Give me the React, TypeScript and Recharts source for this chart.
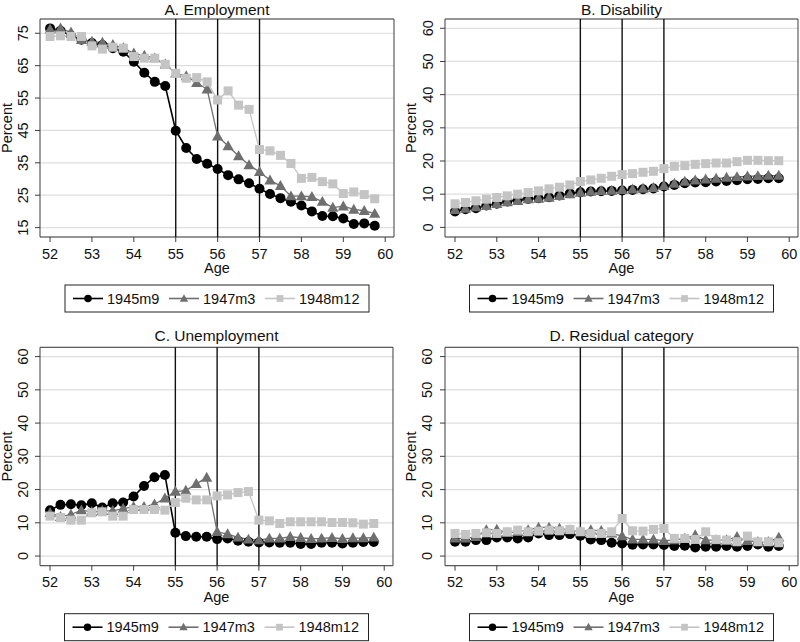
import React from 'react';
import { LineChart, Line, XAxis, YAxis, CartesianGrid, ReferenceLine, ReferenceArea } from 'recharts';

const ages = [52, 52.25, 52.5, 52.75, 53, 53.25, 53.5, 53.75, 54, 54.25, 54.5, 54.75, 55, 55.25, 55.5, 55.75, 56, 56.25, 56.5, 56.75, 57, 57.25, 57.5, 57.75, 58, 58.25, 58.5, 58.75, 59, 59.25, 59.5, 59.75];
const xTicks = [52, 53, 54, 55, 56, 57, 58, 59, 60];
const cutoffAges = [55, 56, 57];
const seriesNames = ['1945m9', '1947m3', '1948m12'];
const employmentTicks = [15, 25, 35, 45, 55, 65, 75];
const percentTicks = [0, 10, 20, 30, 40, 50, 60];

const employment1945m9 = [76.5, 75.8, 74.3, 73, 72, 71.4, 70.4, 69.3, 66.2, 62.8, 60, 58.7, 44.9, 39.6, 36.2, 34.7, 33.1, 31.2, 29.9, 28.7, 27, 25.4, 24.1, 23, 21.8, 20, 18.6, 18.5, 17.8, 16.1, 16.3, 15.6];
const employment1947m3 = [76.2, 76.5, 75.3, 73, 72.4, 72.1, 71.4, 70.4, 68.8, 68.1, 67.3, 65.4, 62.6, 61.8, 59.7, 57.7, 43.2, 40.2, 37.1, 34.3, 32.2, 29.6, 27.9, 24.7, 24.7, 24.5, 23, 21.2, 21.6, 20.6, 20.2, 19.3];
const employment1948m12 = [74, 74.2, 74, 74, 71.1, 70.1, 70.7, 70.4, 67.8, 67.3, 67.3, 65.4, 62.6, 61.1, 61.3, 60, 54.4, 57.2, 52.8, 51.5, 39.1, 38.7, 37.3, 34.8, 30.2, 30.5, 29.2, 28.5, 25.5, 26, 25.2, 23.9];

const disability1945m9 = [4.8, 5.5, 5.8, 6.6, 7.1, 7.8, 8.3, 8.6, 8.8, 9.1, 9.6, 10.3, 10.6, 10.8, 10.9, 11, 11.1, 11.3, 11.5, 11.7, 12.3, 12.8, 13.3, 13.5, 13.6, 13.8, 14, 14.2, 14.5, 14.6, 14.8, 14.8];
const disability1947m3 = [5.3, 5.7, 6.1, 6.5, 7.1, 7.6, 8, 8.5, 8.7, 9, 9.5, 10, 10.5, 10.8, 11, 11.1, 11.3, 11.5, 11.7, 11.9, 12.5, 13.2, 13.8, 14.2, 14.5, 14.7, 15, 15.2, 15.4, 15.5, 15.6, 15.6];
const disability1948m12 = [7.1, 7.5, 8, 8.5, 9, 9.5, 10, 10.5, 11, 11.6, 12.1, 12.8, 13.8, 14.3, 14.8, 15.4, 15.9, 16.2, 16.6, 16.9, 17.7, 18.4, 18.6, 19, 19.2, 19.4, 19.4, 19.8, 20.2, 20.2, 20.1, 20.1];

const unemployment1945m9 = [13.8, 15.4, 15.6, 15.3, 15.9, 14.6, 15.9, 16.1, 17.9, 21.1, 23.7, 24.4, 7, 6, 5.8, 5.8, 5.1, 5.3, 4.6, 4.3, 4.1, 4.1, 4, 4, 3.6, 3.6, 4, 4, 3.8, 4, 4.2, 4.2];
const unemployment1947m3 = [13, 11.8, 12.5, 13.8, 13.3, 13.6, 13.6, 14.3, 14.8, 14.8, 15.6, 17.4, 19.4, 19.7, 21.7, 23.6, 7.3, 6.6, 5.6, 5, 4.8, 5.3, 5.3, 5.8, 5.5, 5.2, 5.3, 5.5, 5.2, 5.4, 5.4, 5.6];
const unemployment1948m12 = [12, 11.6, 10.8, 10.8, 13, 13.3, 12, 12, 14, 14, 14, 13.8, 16.1, 17.4, 16.9, 16.9, 18.1, 18.4, 19.1, 19.4, 10.8, 10.6, 9.8, 10.3, 10.3, 10.3, 10.3, 10.1, 10.1, 10, 9.6, 9.8];

const residual1945m9 = [4.3, 4.3, 4.8, 4.8, 5.6, 5.6, 5.3, 5.6, 6.8, 6.3, 6.3, 6.6, 6.1, 5, 4.8, 4, 3.8, 3.4, 3.5, 3.5, 3.3, 3, 3.1, 2.6, 2.8, 2.8, 3, 2.8, 3, 3.5, 2.8, 3];
const residual1947m3 = [5.3, 5.3, 5.8, 7.8, 8, 7, 7.3, 7.8, 8.6, 8.6, 8.3, 7.8, 7.3, 7.8, 7.6, 6.8, 6, 5, 5, 5, 4.6, 4.8, 5.3, 6.3, 4.8, 4.8, 4.8, 5.8, 4.6, 4.3, 4.3, 5.6];
const residual1948m12 = [6.8, 6.5, 6.8, 7, 6.8, 7.3, 7.8, 7.3, 7.5, 7.8, 7.6, 8, 7.3, 6.8, 6.8, 7.3, 11.3, 7.6, 7.5, 8, 8.3, 5.3, 5.3, 5, 7.3, 5, 4.8, 4.3, 6, 4.3, 4.3, 4];

const FONT = '"Liberation Sans", Arial, Helvetica, sans-serif';
const COLORS = ['#000000', '#6f6f6f', '#c4c4c4'];
const KINDS = ['circle', 'triangle', 'square'];
const FRAME = '#3c3c3c';

function buildRows(a: number[], b: number[], c: number[]) {
  return ages.map((age, i) => ({ age, s0: a[i], s1: b[i], s2: c[i] }));
}

function Marker({ kind, cx, cy, color, scale = 1 }: any) {
  if (cx == null || cy == null) return null;
  if (kind === 'circle') return <circle cx={cx} cy={cy} r={5 * scale} fill={color} />;
  if (kind === 'triangle') {
    const h = 5.8 * scale;
    const w = 5.6 * scale;
    return <path d={`M${cx},${cy - h} L${cx + w},${cy + h * 0.72} L${cx - w},${cy + h * 0.72} Z`} fill={color} />;
  }
  const s = 4.5 * scale;
  return <rect x={cx - s} y={cy - s} width={2 * s} height={2 * s} fill={color} />;
}

const XTick = (props: any) => {
  const { x, y, payload } = props;
  return (
    <text x={x} y={y + 14.5} textAnchor="middle" fontFamily={FONT} fontSize={14.5} fill="#111">
      {payload.value}
    </text>
  );
};

const makeYTick = (labelCenterX: number) => (props: any) => {
  const { y, payload } = props;
  const bx = labelCenterX + 5.2;
  return (
    <text x={bx} y={y} transform={`rotate(-90 ${bx} ${y})`} textAnchor="middle" fontFamily={FONT} fontSize={14.5} fill="#111">
      {payload.value}
    </text>
  );
};

type PanelCfg = {
  title: string;
  px: number;
  py: number;
  plotL: number;
  plotR: number;
  plotT: number;
  plotB: number;
  yDomain: [number, number];
  yTicks: number[];
  tickCenterX: number;
  percentX: number;
  titleGap: number;
  rows: any[];
};

const X_DOMAIN: [number, number] = [51.76, 60.21];

const panels: PanelCfg[] = [
  { title: 'A. Employment', px: 0, py: 0, plotL: 40, plotR: 394, plotT: 19, plotB: 237, yDomain: [12.1, 79.4], yTicks: employmentTicks, tickCenterX: 22.5, percentX: 7, titleGap: 4.5, rows: buildRows(employment1945m9, employment1947m3, employment1948m12) },
  { title: 'B. Disability', px: 400, py: 0, plotL: 45, plotR: 398, plotT: 19, plotB: 237, yDomain: [-2.9, 62.8], yTicks: percentTicks, tickCenterX: 28, percentX: 10.5, titleGap: 4.5, rows: buildRows(disability1945m9, disability1947m3, disability1948m12) },
  { title: 'C. Unemployment', px: 0, py: 320, plotL: 40, plotR: 393, plotT: 27.3, plotB: 245.7, yDomain: [-2.9, 62.8], yTicks: percentTicks, tickCenterX: 22.5, percentX: 7, titleGap: 6.5, rows: buildRows(unemployment1945m9, unemployment1947m3, unemployment1948m12) },
  { title: 'D. Residual category', px: 400, py: 320, plotL: 45, plotR: 398, plotT: 27.3, plotB: 245.7, yDomain: [-2.9, 62.8], yTicks: percentTicks, tickCenterX: 26.5, percentX: 10.5, titleGap: 6.5, rows: buildRows(residual1945m9, residual1947m3, residual1948m12) },
];

function Panel({ cfg }: { cfg: PanelCfg }) {
  const H = cfg.plotB + 30;
  const YTick = makeYTick(cfg.tickCenterX);
  return (
    <div style={{ position: 'absolute', left: cfg.px, top: cfg.py, width: 400, height: H }}>
      <LineChart width={400} height={H} data={cfg.rows} margin={{ top: cfg.plotT, right: 400 - cfg.plotR, left: 0, bottom: 0 }}>
        <CartesianGrid vertical={false} stroke="#dedede" strokeWidth={1.2} />
        <XAxis
          type="number"
          dataKey="age"
          domain={X_DOMAIN}
          ticks={xTicks}
          allowDataOverflow
          height={30}
          axisLine={false}
          tickSize={5}
          tickLine={{ stroke: FRAME }}
          tick={<XTick />}
          interval={0}
        />
        <YAxis
          type="number"
          domain={cfg.yDomain}
          ticks={cfg.yTicks}
          allowDataOverflow
          width={cfg.plotL}
          axisLine={false}
          tickSize={5}
          tickLine={{ stroke: FRAME }}
          tick={<YTick />}
          interval={0}
        />
        <ReferenceArea x1={X_DOMAIN[0]} x2={X_DOMAIN[1]} y1={cfg.yDomain[0]} y2={cfg.yDomain[1]} fill="none" fillOpacity={0} stroke={FRAME} strokeWidth={1} ifOverflow="visible" />
        {cutoffAges.map((a) => (
          <ReferenceLine key={a} x={a} stroke="#111" strokeWidth={1.4} ifOverflow="visible" />
        ))}
        {[0, 1, 2].map((k) => (
          <Line
            key={k}
            type="linear"
            dataKey={`s${k}`}
            stroke={COLORS[k]}
            strokeWidth={k === 0 ? 1.6 : 1.3}
            isAnimationActive={false}
            dot={(p: any) => <Marker key={`${k}-${p.index}`} kind={KINDS[k]} cx={p.cx} cy={p.cy} color={COLORS[k]} />}
            activeDot={false}
          />
        ))}
      </LineChart>
    </div>
  );
}

function Overlay() {
  return (
    <svg width={800} height={642} style={{ position: 'absolute', left: 0, top: 0, pointerEvents: 'none' }}>
      {panels.map((cfg, i) => {
        const cx = cfg.px + (cfg.plotL + cfg.plotR) / 2;
        const plotTop = cfg.py + cfg.plotT;
        const plotBottom = cfg.py + cfg.plotB;
        const plotMid = (plotTop + plotBottom) / 2;
        const pX = cfg.px + cfg.percentX + 5.2;
        const boxW = 304;
        const boxX = cx - boxW / 2;
        const boxY = plotBottom + 48;
        const itemOffsets = [8, 104, 200];
        return (
          <g key={i} fontFamily={FONT} fill="#111">
            <text x={cx} y={plotTop - cfg.titleGap} textAnchor="middle" fontSize={15.5}>{cfg.title}</text>
            <text x={cx} y={plotBottom + 36} textAnchor="middle" fontSize={14.5}>Age</text>
            <text x={pX} y={plotMid} transform={`rotate(-90 ${pX} ${plotMid})`} textAnchor="middle" fontSize={14.5}>Percent</text>
            <rect x={boxX} y={boxY} width={boxW} height={27} fill="#fff" stroke="#222" strokeWidth={1} />
            {seriesNames.map((name, k) => {
              const lx = boxX + itemOffsets[k];
              const ly = boxY + 13.5;
              return (
                <g key={name}>
                  <line x1={lx} x2={lx + 30} y1={ly} y2={ly} stroke={COLORS[k]} strokeWidth={1.6} />
                  <Marker kind={KINDS[k]} cx={lx + 15} cy={ly} color={COLORS[k]} scale={0.75} />
                  <text x={lx + 34} y={ly + 5.2} fontSize={14.5} fill="#111">{name}</text>
                </g>
              );
            })}
          </g>
        );
      })}
    </svg>
  );
}

export default function App() {
  return (
    <div style={{ position: 'absolute', left: 0, top: 0, width: 800, height: 642, background: '#fff', overflow: 'hidden' }}>
      {panels.map((cfg, i) => (
        <Panel key={i} cfg={cfg} />
      ))}
      <Overlay />
    </div>
  );
}
